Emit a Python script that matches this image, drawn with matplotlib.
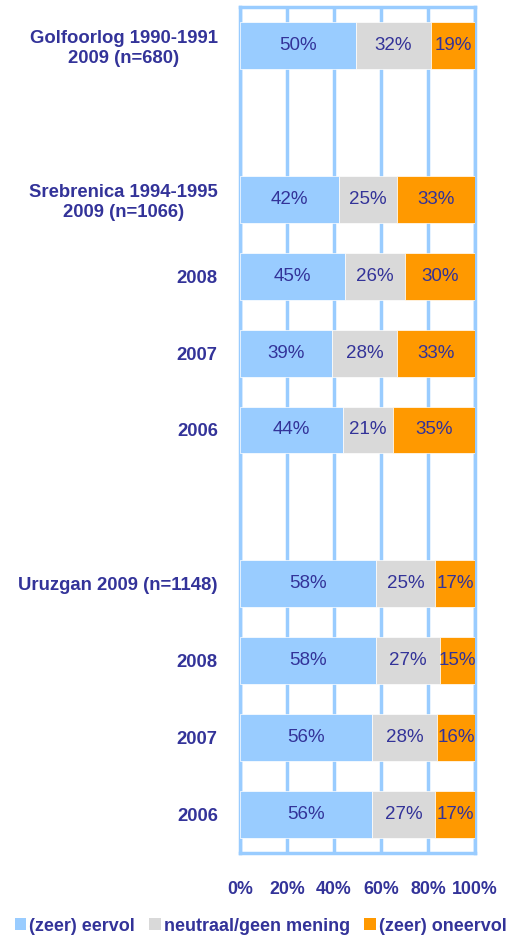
import numpy as np
import matplotlib.pyplot as plt
from matplotlib.patches import Patch

plt.rcParams['font.family'] = ['Liberation Sans', 'DejaVu Sans']

# rows from top to bottom, None marks an empty spacer row
labels = ['Golfoorlog 1990-1991\n2009 (n=680)', None,
          'Srebrenica 1994-1995\n2009 (n=1066)', '2008', '2007', '2006', None,
          'Uruzgan 2009 (n=1148)', '2008', '2007', '2006']
eervol = [50, None, 42, 45, 39, 44, None, 58, 58, 56, 56]
neutraal = [32, None, 25, 26, 28, 21, None, 25, 27, 28, 27]
oneervol = [19, None, 33, 30, 33, 35, None, 17, 15, 16, 17]

series_names = ['(zeer) eervol', 'neutraal/geen mening', '(zeer) oneervol']
colors = ['#99CCFF', '#D9D9D9', '#FF9900']
txt = '#333399'
grid = '#99CCFF'

fig = plt.figure(figsize=(5.11, 9.36), dpi=100)
ax = fig.add_axes([0.4697, 0.0887, 0.4599, 0.9038])

for i in range(len(labels)):
    if eervol[i] is None:
        continue
    vals = [eervol[i], neutraal[i], oneervol[i]]
    tot = sum(vals)
    left = 0
    for v, c in zip(vals, colors):
        w = v / tot * 100
        ax.barh(i, w, left=left, height=0.61, color=c, edgecolor='white',
                linewidth=0.5, zorder=3)
        ax.text(left + w / 2, i, f'{v}%', ha='center', va='center',
                color=txt, fontsize=13.5, zorder=4)
        left += w

ax.set_ylim(10.5, -0.5)
ax.set_xlim(0, 100)
ax.set_yticks([i for i, l in enumerate(labels) if l is not None])
ax.set_yticklabels([l for l in labels if l is not None], fontweight='bold',
                   color=txt, fontsize=13.3, multialignment='center',
                   linespacing=1.2)
ax.set_xticks(np.arange(0, 101, 20))
ax.set_xticklabels([f'{x}%' for x in range(0, 101, 20)], fontweight='bold',
                   color=txt, fontsize=12.8)
ax.tick_params(axis='y', length=0, pad=16)
ax.tick_params(axis='x', length=0, pad=20)
ax.xaxis.grid(True, color=grid, linewidth=2.5, zorder=0)
ax.set_axisbelow(True)
for s in ax.spines.values():
    s.set_color(grid)
    s.set_linewidth(2.5)

handles = [Patch(facecolor=c, edgecolor='none') for c in colors]
fig.legend(handles, series_names, loc='center', ncol=3,
           bbox_to_anchor=(0.51, 0.0105), frameon=False, handlelength=0.65,
           handleheight=0.65, handletextpad=0.15, columnspacing=0.8,
           prop={'weight': 'bold', 'size': 13}, labelcolor=txt)

fig.savefig('out.png', dpi=100)
